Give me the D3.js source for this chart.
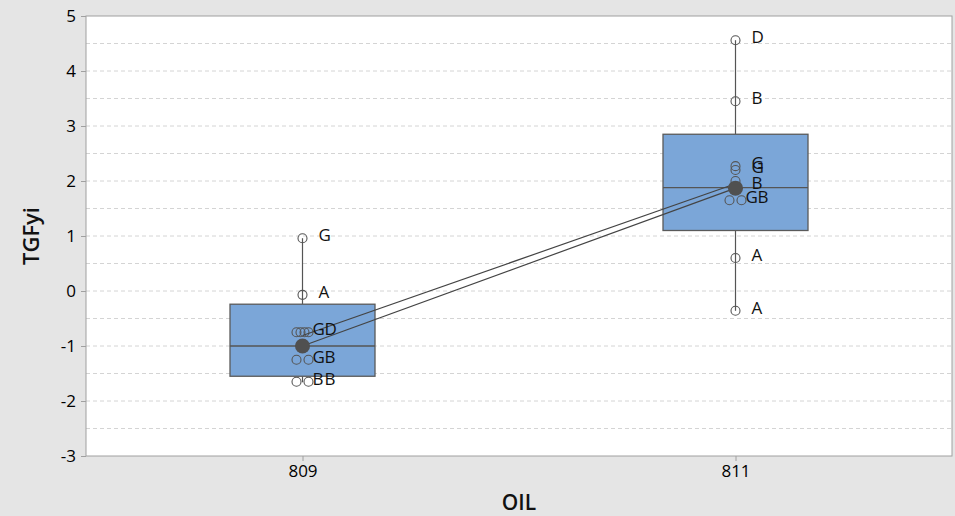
<!DOCTYPE html>
<html>
<head>
<meta charset="utf-8">
<script src="https://cdn.jsdelivr.net/npm/d3@7"></script>
<style>
  body { margin: 0; background: #e5e5e5; }
  svg { display: block; font-family: "Open Sans", sans-serif; }
</style>
</head>
<body>
<svg id="chart"></svg>
<script>
// categories and box summaries
const groups = ["809", "811"];
const q1 = [-1.55, 1.10];
const medians = [-1.00, 1.88];
const q3 = [-0.24, 2.85];
const whiskerLow = [-1.66, -0.36];
const whiskerHigh = [0.96, 4.56];
const means = [-1.00, 1.87];
const secondLine = [-0.81, 1.95];

// individual values with their labels
const pointGroup = ["809", "809", "809", "809", "809", "809", "809", "809", "809", "809",
                    "811", "811", "811", "811", "811", "811", "811", "811", "811", "811"];
const pointValue = [0.96, -0.07, -0.75, -0.75, -0.75, -0.75, -1.25, -1.25, -1.65, -1.65,
                    4.56, 3.45, 2.27, 2.20, 2.00, 1.90, 1.65, 1.65, 0.60, -0.36];
const pointLabel = ["G", "A", "G", "", "", "D", "G", "B", "B", "B",
                    "D", "B", "G", "G", "", "B", "G", "B", "A", "A"];

const yTicks = [-3, -2, -1, 0, 1, 2, 3, 4, 5];
const gridValues = d3.range(-2.5, 5, 0.5);

const width = 955, height = 516;
const margin = { top: 16, right: 3, bottom: 60, left: 86 };

const svg = d3.select("#chart")
  .attr("width", width)
  .attr("height", height)
  .attr("viewBox", [0, 0, width, height]);

svg.append("rect").attr("width", width).attr("height", height).attr("fill", "#e5e5e5");

const x = d3.scalePoint()
  .domain(groups)
  .range([margin.left, width - margin.right])
  .padding(0.5);

const y = d3.scaleLinear()
  .domain([-3, 5])
  .range([height - margin.bottom, margin.top]);

// plot area
svg.append("rect")
  .attr("x", margin.left)
  .attr("y", margin.top)
  .attr("width", width - margin.right - margin.left)
  .attr("height", height - margin.bottom - margin.top)
  .attr("fill", "white");

svg.append("g")
  .selectAll("line")
  .data(gridValues)
  .join("line")
  .attr("x1", margin.left)
  .attr("x2", width - margin.right)
  .attr("y1", d => y(d))
  .attr("y2", d => y(d))
  .attr("stroke", "#d4d4d4")
  .attr("stroke-dasharray", "4,3");

// axes
const yAxis = svg.append("g")
  .attr("transform", `translate(${margin.left},0)`)
  .call(d3.axisLeft(y).tickValues(yTicks).tickFormat(d => String(d)).tickSize(5).tickPadding(5));
yAxis.select(".domain").remove();
yAxis.selectAll(".tick line").attr("stroke", "#a0a0a0");
yAxis.selectAll(".tick text").attr("font-size", 17).attr("fill", "#000")
  .style("font-family", "'Open Sans', sans-serif");

const xAxis = svg.append("g")
  .attr("transform", `translate(0,${height - margin.bottom})`)
  .call(d3.axisBottom(x).tickSize(5).tickPadding(4));
xAxis.select(".domain").remove();
xAxis.selectAll(".tick line").attr("stroke", "#a0a0a0");
xAxis.selectAll(".tick text").attr("font-size", 17).attr("fill", "#000")
  .style("font-family", "'Open Sans', sans-serif");

svg.append("rect")
  .attr("x", margin.left)
  .attr("y", margin.top)
  .attr("width", width - margin.right - margin.left)
  .attr("height", height - margin.bottom - margin.top)
  .attr("fill", "none")
  .attr("stroke", "#a0a0a0");

// axis titles
svg.append("text")
  .attr("transform", `translate(39,${(margin.top + height - margin.bottom) / 2}) rotate(-90)`)
  .attr("text-anchor", "middle")
  .attr("font-size", 22)
  .attr("font-weight", 600)
  .attr("fill", "#111")
  .text("TGFyi");

svg.append("text")
  .attr("x", (margin.left + width - margin.right) / 2)
  .attr("y", 510)
  .attr("text-anchor", "middle")
  .attr("font-size", 21)
  .attr("font-weight", 600)
  .attr("fill", "#111")
  .text("OIL");

// boxes
const boxWidth = 145;
const boxes = groups.map((g, i) => ({
  g, q1: q1[i], med: medians[i], q3: q3[i], lo: whiskerLow[i], hi: whiskerHigh[i]
}));

const boxG = svg.append("g");
boxes.forEach(b => {
  const cx = x(b.g);
  boxG.append("line")
    .attr("x1", cx).attr("x2", cx)
    .attr("y1", y(b.q3)).attr("y2", y(b.hi))
    .attr("stroke", "#555").attr("stroke-width", 1.2);
  boxG.append("line")
    .attr("x1", cx).attr("x2", cx)
    .attr("y1", y(b.q1)).attr("y2", y(b.lo))
    .attr("stroke", "#555").attr("stroke-width", 1.2);
  boxG.append("rect")
    .attr("x", cx - boxWidth / 2)
    .attr("width", boxWidth)
    .attr("y", y(b.q3))
    .attr("height", y(b.q1) - y(b.q3))
    .attr("fill", "#7ba6d8")
    .attr("stroke", "#5a5a5a")
    .attr("stroke-width", 1.3);
  boxG.append("line")
    .attr("x1", cx - boxWidth / 2).attr("x2", cx + boxWidth / 2)
    .attr("y1", y(b.med)).attr("y2", y(b.med))
    .attr("stroke", "#555").attr("stroke-width", 1.3);
});

// individual points, ties placed side by side
const points = pointValue.map((v, i) => ({ g: pointGroup[i], v, label: pointLabel[i] }));
const ties = d3.group(points, d => d.g + "|" + d.v);
ties.forEach(arr => {
  const n = arr.length;
  const step = n <= 2 ? 12 : 4;
  arr.forEach((d, k) => { d.dx = (k - (n - 1) / 2) * step; });
});

svg.append("g")
  .selectAll("circle")
  .data(points)
  .join("circle")
  .attr("cx", d => x(d.g) + d.dx)
  .attr("cy", d => y(d.v))
  .attr("r", 4.5)
  .attr("fill", "none")
  .attr("stroke", "#555")
  .attr("stroke-width", 1.1);

// lines connecting group values
[means, secondLine].forEach(vals => {
  svg.append("path")
    .datum(groups.map((g, i) => [x(g), y(vals[i])]))
    .attr("d", d3.line())
    .attr("fill", "none")
    .attr("stroke", "#444")
    .attr("stroke-width", 1.2);
});

svg.append("g")
  .selectAll("circle")
  .data(groups)
  .join("circle")
  .attr("cx", d => x(d))
  .attr("cy", (d, i) => y(means[i]))
  .attr("r", 7.5)
  .attr("fill", "#505050");

svg.append("g")
  .selectAll("text")
  .data(points.filter(d => d.label))
  .join("text")
  .attr("x", d => x(d.g) + d.dx + 16)
  .attr("y", d => y(d.v) - 3)
  .attr("dy", "0.35em")
  .attr("font-size", 17)
  .attr("fill", "#111")
  .text(d => d.label);
</script>
</body>
</html>
